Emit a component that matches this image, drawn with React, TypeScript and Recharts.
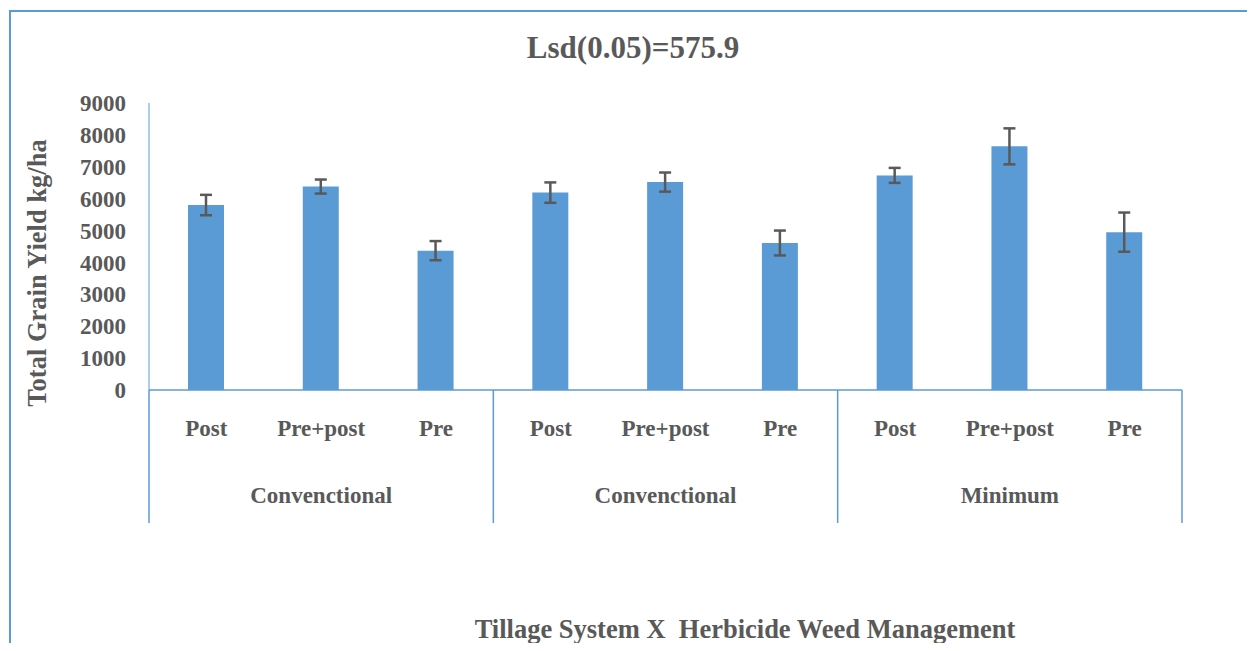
import { BarChart, Bar, XAxis, YAxis, ErrorBar } from 'recharts'

const TREATMENTS = ['Post', 'Pre+post', 'Pre', 'Post', 'Pre+post', 'Pre', 'Post', 'Pre+post', 'Pre']
const TILLAGE = ['Convenctional', 'Convenctional', 'Minimum']
const YIELD = [5800, 6380, 4370, 6190, 6520, 4610, 6730, 7640, 4950]
const ERRORS = [320, 220, 300, 320, 300, 390, 235, 565, 615]
const Y_TICKS = [0, 1000, 2000, 3000, 4000, 5000, 6000, 7000, 8000, 9000]

const data = TREATMENTS.map((t, i) => ({
  key: `${i}`,
  treatment: t,
  tillage: TILLAGE[Math.floor(i / 3)],
  yield: YIELD[i],
  err: ERRORS[i],
}))

const FONT = '"Liberation Serif", "Times New Roman", serif'
const TEXT = '#595959'
const BLUE = '#5b9bd5'
const labelStyle = { fontFamily: FONT, fontWeight: 700, fontSize: 23 }

// two-level category tick: treatment under each bar, tillage under each group of 3
function CategoryTick(props: any) {
  const { x, y, index, width, visibleTicksCount } = props
  const n = visibleTicksCount || data.length
  const band = (width || 1033) / n
  const row = data[index]
  if (!row) return null
  const left = x - band / 2
  return (
    <g>
      <text x={x} y={y + 38} textAnchor="middle" dominantBaseline="central" style={labelStyle} fill={TEXT}>
        {row.treatment}
      </text>
      {index % 3 === 0 && (
        <line x1={left} x2={left} y1={y} y2={y + 133} stroke={BLUE} strokeWidth={1.5} />
      )}
      {index % 3 === 1 && (
        <text x={x} y={y + 105} textAnchor="middle" dominantBaseline="central" style={labelStyle} fill={TEXT}>
          {row.tillage}
        </text>
      )}
      {index === n - 1 && (
        <line x1={x + band / 2} x2={x + band / 2} y1={y} y2={y + 133} stroke={BLUE} strokeWidth={1.5} />
      )}
    </g>
  )
}

export default function App() {
  return (
    <div style={{ position: 'relative', margin: -8, width: 1255, height: 651, overflow: 'hidden', background: '#fff', fontFamily: FONT }}>
      {/* chart frame */}
      <div style={{
        position: 'absolute', left: 9, top: 10, width: 1400, height: 800,
        borderLeft: `2px solid ${BLUE}`, borderTop: `2px solid ${BLUE}`,
      }} />

      <div style={{
        position: 'absolute', left: 0, top: 30, width: 1266, textAlign: 'center',
        fontWeight: 'bold', fontSize: 31, color: TEXT, lineHeight: '36px',
      }}>
        Lsd(0.05)=575.9
      </div>

      <div style={{
        position: 'absolute', left: 37, top: 273, transform: 'translate(-50%, -50%) rotate(-90deg)',
        whiteSpace: 'nowrap', fontWeight: 'bold', fontSize: 26.5, color: TEXT,
      }}>
        Total Grain Yield kg/ha
      </div>

      <div style={{
        position: 'absolute', left: 745, top: 629, transform: 'translate(-50%, -50%)',
        whiteSpace: 'pre', fontWeight: 'bold', fontSize: 26.5, color: TEXT, lineHeight: '30px',
      }}>
        Tillage System X  Herbicide Weed Management
      </div>

      <div style={{ position: 'absolute', left: 0, top: 0 }}>
        <BarChart width={1255} height={651} data={data} style={{ fontFamily: FONT }}
          margin={{ top: 103, right: 73, left: 69, bottom: 121 }}>
          <XAxis dataKey="key" height={140} interval={0} tickLine={false} tickSize={0} tickMargin={0}
            axisLine={{ stroke: BLUE, strokeWidth: 1.5 }} tick={<CategoryTick />} />
          <YAxis domain={[0, 9000]} ticks={Y_TICKS} width={80} interval={0}
            tickLine={false} tickSize={0} tickMargin={23}
            axisLine={{ stroke: BLUE, strokeWidth: 1 }}
            tick={{ style: labelStyle, fill: TEXT }} />
          <Bar dataKey="yield" fill={BLUE} barSize={36} isAnimationActive={false}>
            <ErrorBar dataKey="err" width={6} stroke="#595959" strokeWidth={2.5} direction="y" />
          </Bar>
        </BarChart>
      </div>
    </div>
  )
}
